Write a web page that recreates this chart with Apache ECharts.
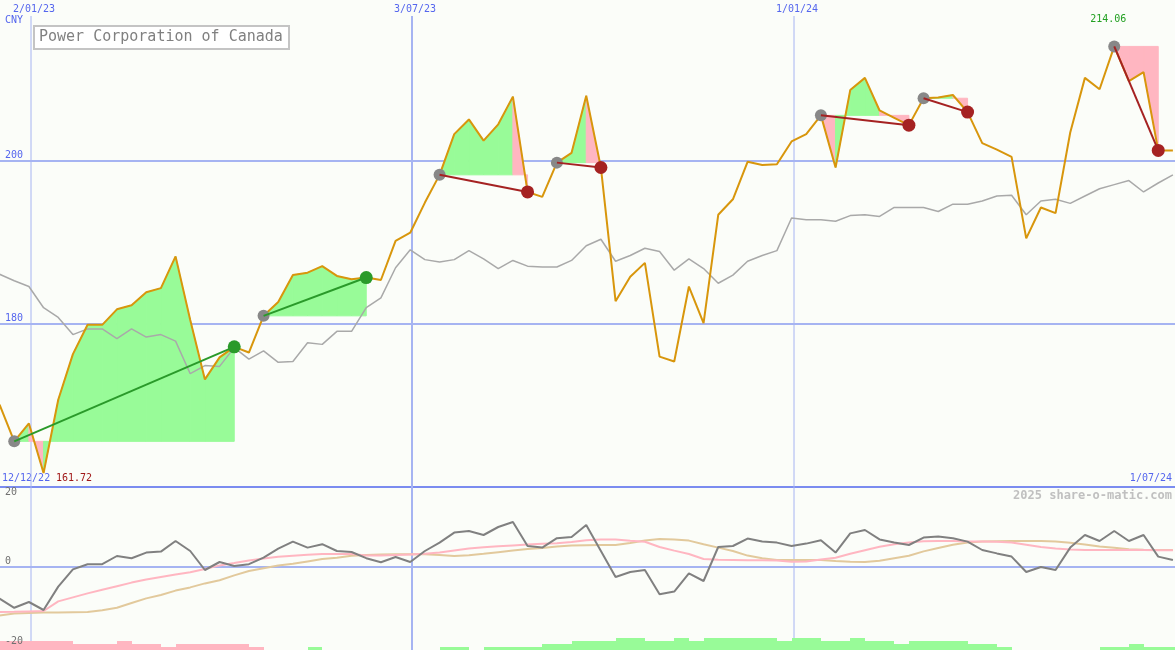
<!DOCTYPE html>
<html><head><meta charset="utf-8">
<script src="https://cdn.jsdelivr.net/npm/echarts@6/dist/echarts.min.js"></script>
<style>html,body{margin:0;padding:0;background:#fbfdf9;overflow:hidden;}#c{position:absolute;left:-13px;top:-2px;width:1188px;height:652px;}</style>
</head><body><div id="c"></div>
<script>
// ---------- data ----------
const chartTitle = 'Power Corporation of Canada';
const currency = 'CNY';
const firstWeek = '2022-12-18';
const axisStart = '2022-12-12';
const axisEnd = '2024-07-01';
const dateLineDays = ['2023-01-02', '2023-07-03', '2024-01-01'];
const dateLineWidths = [1, 2, 1];

const price = [
  170.1, 165.6, 167.8, 161.72, 170.7, 176.3, 179.9, 179.9, 181.8, 182.3,
  183.9, 184.4, 188.3, 180.5, 173.2, 175.9, 177.2, 176.5, 181.0, 182.7,
  186.0, 186.3, 187.1, 185.9, 185.5, 185.7, 185.4, 190.2, 191.2, 194.9,
  198.3, 203.3, 205.1, 202.5, 204.5, 207.9, 196.2, 195.6, 199.8, 201.0,
  208.0, 199.2, 182.8, 185.8, 187.5, 176.0, 175.4, 184.6, 180.1, 193.4,
  195.3, 199.9, 199.5, 199.6, 202.4, 203.3, 205.6, 199.2, 208.7, 210.2,
  206.2, 205.3, 204.4, 207.7, 207.8, 208.1, 206.0, 202.2, 201.4, 200.5,
  190.5, 194.3, 193.6, 203.5, 210.2, 208.8, 214.06, 209.8, 210.9, 201.3,
  201.3
];
const indexLine = [
  186.1, 185.3, 184.6, 182.0, 180.8, 178.7, 179.4, 179.4, 178.2, 179.4,
  178.4, 178.7, 177.9, 173.9, 174.9, 174.8, 177.1, 175.7, 176.7, 175.3,
  175.4, 177.7, 177.5, 179.1, 179.1, 182.0, 183.2, 186.9, 189.1, 187.9,
  187.6, 187.9, 189.0, 188.0, 186.8, 187.8, 187.1, 187.0, 187.0, 187.8,
  189.6, 190.4, 187.7, 188.4, 189.3, 188.9, 186.6, 188.0, 186.8, 185.0,
  186.0, 187.7, 188.4, 189.0, 193.0, 192.8, 192.8, 192.6, 193.3, 193.4,
  193.2, 194.3, 194.3, 194.3, 193.8, 194.7, 194.7, 195.1, 195.7, 195.8,
  193.4, 195.1, 195.3, 194.8, 195.7, 196.6, 197.1, 197.6, 196.2, 197.3,
  198.3
];
const oscillator = [
  -7.9, -10.2, -8.75, -10.75, -4.9, -0.6, 0.7, 0.7, 2.75, 2.2,
  3.6, 3.85, 6.5, 4.0, -0.75, 1.25, 0.25, 0.7, 2.35, 4.6,
  6.35, 4.85, 5.7, 4.0, 3.75, 2.2, 1.2, 2.5, 1.25, 4.0,
  6.1, 8.6, 9.0, 8.0, 10.0, 11.25, 5.25, 4.85, 7.2, 7.5,
  10.5, 4.0, -2.5, -1.25, -0.75, -6.8, -6.15, -1.6, -3.5, 5.0,
  5.25, 7.1, 6.35, 6.1, 5.25, 5.85, 6.7, 3.6, 8.4, 9.25,
  6.9, 6.1, 5.5, 7.35, 7.6, 7.2, 6.35, 4.25, 3.4, 2.6,
  -1.25, 0, -0.75, 4.85, 8.0, 6.5, 9.0, 6.5, 8.0, 2.6,
  1.75
];
const oscFast = [
  -11.25, -11.2, -11.1, -11.0, -8.6, -7.6, -6.6, -5.7, -4.8, -3.9,
  -3.1, -2.5, -1.9, -1.3, -0.5, 0.4, 1.0, 1.65, 2.1, 2.55,
  2.8, 3.05, 3.25, 3.25, 3.25, 2.9, 2.85, 3.0, 3.15, 3.3,
  3.6, 4.1, 4.6, 4.95, 5.2, 5.4, 5.6, 5.8, 5.95, 6.25,
  6.7, 6.9, 6.85, 6.55, 6.3, 5.0, 4.1, 3.25, 2.0, 1.8,
  1.75, 1.7, 1.7, 1.65, 1.3, 1.35, 1.85, 2.3, 3.3, 4.2,
  5.05, 5.7, 6.15, 6.45, 6.5, 6.5, 6.4, 6.35, 6.3, 6.1,
  5.55, 5.0, 4.6, 4.35, 4.25, 4.25, 4.25, 4.25, 4.25, 4.2,
  4.2
];
const oscSlow = [
  -12.1, -11.6, -11.5, -11.4, -11.35, -11.3, -11.25, -10.8, -10.2, -9.0,
  -7.85, -7.0, -5.9, -5.1, -4.1, -3.3, -2.1, -1.0, -0.3, 0.4,
  0.8, 1.4, 2.0, 2.3, 2.8, 3.0, 3.15, 3.2, 3.2, 3.2,
  3.0, 2.75, 2.95, 3.3, 3.7, 4.1, 4.5, 4.75, 5.15, 5.4,
  5.45, 5.5, 5.5, 6.0, 6.6, 7.0, 6.9, 6.6, 5.7, 4.85,
  4.0, 2.85, 2.2, 1.75, 1.75, 1.75, 1.75, 1.5, 1.3, 1.25,
  1.55, 2.2, 2.8, 3.9, 4.75, 5.55, 6.15, 6.35, 6.45, 6.5,
  6.5, 6.5, 6.4, 6.05, 5.65, 5.15, 4.8, 4.45, 4.3, 4.25,
  4.25
];
const signal = [
  -3, -3, -3, -3, -3, -2, -2, -2, -3, -2,
  -2, -1, -2, -2, -2, -2, -2, -1, 0, 0,
  0, 1, 0, 0, 0, 0, 0, 0, 0, 0,
  1, 1, 0, 1, 1, 1, 1, 2, 2, 3,
  3, 3, 4, 4, 3, 3, 4, 3, 4, 4,
  4, 4, 4, 3, 4, 4, 3, 3, 4, 3,
  3, 2, 3, 3, 3, 3, 2, 2, 1, 0,
  0, 0, 0, 0, 0, 1, 1, 2, 1, 1,
  1
];
// trades: [entry week index, exit week index]
const trades = [[1, 16], [18, 25], [30, 36], [38, 41], [56, 62], [63, 66], [76, 79]];

// ---------- helpers ----------
const DAY = 86400000;
function ts(s) { const p = s.split('-').map(Number); return Date.UTC(p[0], p[1] - 1, p[2]); }
function fmtDate(s) { const p = s.split('-'); return (+p[2]) + '/' + p[1] + '/' + p[0].slice(2); }
const weekTs = price.map((_, i) => ts(firstWeek) + i * 7 * DAY);
const xMin = ts(axisStart), xMax = ts(axisEnd);

// canvas is offset by (-13, -2) relative to the window
const OX = 13, OY = 2;
const FONT = '"DejaVu Sans Mono", "Liberation Mono", monospace';
const BLUE_TXT = '#5566ee';
const GRID_BLUE = '#a6b4f2';
const GREEN_FILL = '#98fb98';
const PINK_FILL = '#ffb6c1';
const WIN = '#2a9a2a';
const LOSS = '#a52222';

const chart = echarts.init(document.getElementById('c'), null, {renderer: 'canvas'});

const xBase = {
  type: 'time', min: xMin, max: xMax,
  axisLabel: {show: false}, axisTick: {show: false}, splitLine: {show: false}
};
const gridBase = {left: 0, right: 0, containLabel: false, outerBoundsMode: 'none'};

const option = {
  animation: false,
  backgroundColor: '#fbfdf9',
  grid: [
    Object.assign({}, gridBase, {top: 0, height: 489}),
    Object.assign({}, gridBase, {top: 489, height: 160}),
    Object.assign({}, gridBase, {top: 489, height: 163})
  ],
  xAxis: [
    Object.assign({}, xBase, {gridIndex: 0, position: 'bottom',
      axisLine: {show: true, onZero: false, lineStyle: {color: '#7b8cf0', width: 2}}}),
    Object.assign({}, xBase, {gridIndex: 1,
      axisLine: {show: true, onZero: true, lineStyle: {color: GRID_BLUE, width: 2}}}),
    Object.assign({}, xBase, {gridIndex: 2, show: false})
  ],
  yAxis: [
    {gridIndex: 0, type: 'value', min: 160, max: 220, interval: 20,
      axisLine: {show: false}, axisTick: {show: false},
      splitLine: {show: true, lineStyle: {color: GRID_BLUE, width: 2}},
      axisLabel: {inside: true, margin: 5 + OX, color: BLUE_TXT, fontFamily: FONT, fontSize: 10,
        verticalAlign: 'bottom', lineHeight: 11,
        formatter: v => (v > 160 && v < 220 ? String(v) : '')}},
    {gridIndex: 1, type: 'value', min: -20, max: 20, interval: 20, z: 10,
      axisLine: {show: false}, axisTick: {show: false}, splitLine: {show: false},
      axisLabel: {inside: true, margin: 5 + OX, color: '#707070', fontFamily: FONT, fontSize: 10,
        verticalAlign: 'bottom', verticalAlignMaxLabel: 'top', lineHeight: 11,
        formatter: v => String(v)}},
    {gridIndex: 2, type: 'value', min: 0, max: 53.5, show: false}
  ],
  series: [
    // vertical date lines (main panel) with labels
    {type: 'custom', xAxisIndex: 0, yAxisIndex: 0, z: 1, silent: true,
      data: dateLineDays.map(d => [ts(d), 200]),
      renderItem: (params, api) => {
        const i = params.dataIndex;
        const cs = params.coordSys;
        const x = Math.round(api.coord([api.value(0), 200])[0]);
        return {type: 'group', children: [
          {type: 'line', shape: {x1: x, y1: 16 + OY, x2: x, y2: cs.y + cs.height},
            style: {stroke: GRID_BLUE, lineWidth: dateLineWidths[i]}},
          {type: 'text', x: x + 3, y: 14 + OY,
            style: {text: fmtDate(dateLineDays[i]), fill: BLUE_TXT, font: '10px ' + FONT,
              align: 'center', verticalAlign: 'bottom', textAlign: 'center', textVerticalAlign: 'bottom'}}
        ]};
      }},
    // vertical date lines (lower panel)
    {type: 'custom', xAxisIndex: 2, yAxisIndex: 2, z: 1, silent: true,
      data: dateLineDays.map(d => [ts(d), 0]),
      renderItem: (params, api) => {
        const i = params.dataIndex;
        const cs = params.coordSys;
        const x = Math.round(api.coord([api.value(0), 0])[0]);
        return {type: 'line', shape: {x1: x, y1: cs.y, x2: x, y2: cs.y + cs.height},
          style: {stroke: GRID_BLUE, lineWidth: dateLineWidths[i]}};
      }},
    // trade fills
    {type: 'custom', xAxisIndex: 0, yAxisIndex: 0, z: 2, silent: true,
      data: trades.map(t => [weekTs[t[0]], price[t[0]]]),
      renderItem: (params, api) => {
        const t = trades[params.dataIndex];
        const E = price[t[0]];
        const children = [];
        for (let k = t[0]; k < t[1]; k++) {
          const e0 = api.coord([weekTs[k], E]);
          const p0 = api.coord([weekTs[k], price[k]]);
          const p1 = api.coord([weekTs[k + 1], price[k + 1]]);
          const e1 = api.coord([weekTs[k + 1], E]);
          const col = price[k + 1] >= E ? GREEN_FILL : PINK_FILL;
          children.push({type: 'polygon', shape: {points: [e0, p0, p1, e1]},
            style: {fill: col, stroke: col, lineWidth: 1}});
        }
        return {type: 'group', children};
      }},
    // comparison line
    {type: 'line', xAxisIndex: 0, yAxisIndex: 0, z: 3, symbol: 'none', silent: true,
      data: indexLine.map((v, i) => [weekTs[i], v]),
      lineStyle: {color: '#a9a9a9', width: 1.5}},
    // price line
    {type: 'line', xAxisIndex: 0, yAxisIndex: 0, z: 4, symbol: 'none', silent: true,
      data: price.map((v, i) => [weekTs[i], v]),
      lineStyle: {color: '#d8960c', width: 2},
      markPoint: {symbol: 'circle', symbolSize: 0, silent: true,
        data: [{type: 'max', name: 'max'}],
        label: {show: true, position: 'inside', offset: [-6, -27], color: '#22a022',
          fontFamily: FONT, fontSize: 10, formatter: p => Number(p.value).toFixed(2)}}},
    // trade lines and markers
    {type: 'custom', xAxisIndex: 0, yAxisIndex: 0, z: 5, silent: true,
      data: trades.map(t => [weekTs[t[0]], price[t[0]]]),
      renderItem: (params, api) => {
        const t = trades[params.dataIndex];
        const a = api.coord([weekTs[t[0]], price[t[0]]]);
        const b = api.coord([weekTs[t[1]], price[t[1]]]);
        const win = price[t[1]] > price[t[0]];
        return {type: 'group', children: [
          {type: 'circle', shape: {cx: a[0], cy: a[1], r: 6}, style: {fill: '#888888'}},
          {type: 'line', shape: {x1: a[0], y1: a[1], x2: b[0], y2: b[1]},
            style: {stroke: win ? WIN : LOSS, lineWidth: 2}},
          {type: 'circle', shape: {cx: b[0], cy: b[1], r: 6.5}, style: {fill: win ? WIN : LOSS}}
        ]};
      }},
    // lower panel bars
    {type: 'custom', xAxisIndex: 2, yAxisIndex: 2, z: 2, silent: true,
      data: signal.map((v, i) => [weekTs[i], Math.abs(v)]),
      renderItem: (params, api) => {
        const i = params.dataIndex;
        const v = signal[i];
        if (!v) return null;
        const nextT = i + 1 < weekTs.length ? weekTs[i + 1] : xMax;
        const p0 = api.coord([weekTs[i], Math.abs(v)]);
        const p1 = api.coord([Math.min(nextT, xMax), 0]);
        const x0 = Math.round(p0[0]), x1 = Math.round(p1[0]);
        const y0 = Math.round(p0[1]);
        return {type: 'rect', shape: {x: x0, y: y0, width: x1 - x0, height: p1[1] - y0},
          style: {fill: v < 0 ? PINK_FILL : GREEN_FILL}};
      }},
    {type: 'line', xAxisIndex: 1, yAxisIndex: 1, z: 3, symbol: 'none', silent: true,
      data: oscSlow.map((v, i) => [weekTs[i], v]), lineStyle: {color: '#e2c99c', width: 2}},
    {type: 'line', xAxisIndex: 1, yAxisIndex: 1, z: 3, symbol: 'none', silent: true,
      data: oscFast.map((v, i) => [weekTs[i], v]), lineStyle: {color: '#ffb6c1', width: 2}},
    {type: 'line', xAxisIndex: 1, yAxisIndex: 1, z: 4, symbol: 'none', silent: true,
      data: oscillator.map((v, i) => [weekTs[i], v]), lineStyle: {color: '#808080', width: 2}}
  ],
  graphic: [
    {type: 'text', left: 5 + OX, top: 15 + OY, style: {text: currency, fill: BLUE_TXT, font: '10px ' + FONT}},
    {type: 'group', left: 33 + OX, top: 25 + OY, children: [
      {type: 'rect', shape: {x: 0, y: 0, width: 255, height: 23},
        style: {fill: '#ffffff', stroke: '#c4c4c4', lineWidth: 2}},
      {type: 'text', x: 5, y: 4, style: {text: chartTitle, fill: '#808080', font: '15px ' + FONT}}
    ]},
    {type: 'text', left: 2 + OX, top: 473 + OY, style: {text: fmtDate(axisStart), fill: BLUE_TXT, font: '10px ' + FONT}},
    {type: 'text', left: 56 + OX, top: 473 + OY, style: {text: Math.min.apply(null, price).toFixed(2), fill: '#a01818', font: '10px ' + FONT}},
    {type: 'text', right: 3, top: 473 + OY, style: {text: fmtDate(axisEnd), fill: BLUE_TXT, font: '10px ' + FONT}},
    {type: 'text', right: 3, top: 490 + OY, style: {text: '2025 share-o-matic.com', fill: '#c0c0c0', font: 'bold 12px ' + FONT}}
  ]
};
chart.setOption(option);
</script>
</body></html>
